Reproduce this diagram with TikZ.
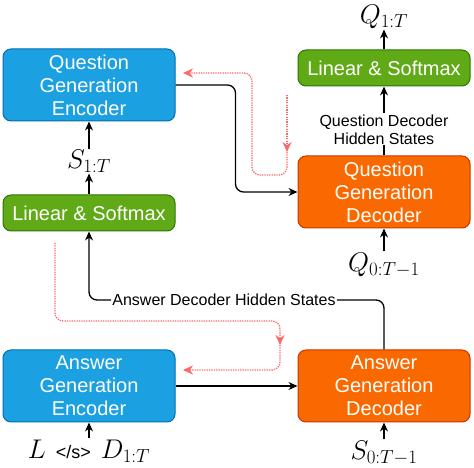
\RequirePackage{fix-cm}
\documentclass[tikz,border=0pt]{standalone}
\usepackage{fontspec}
\setmainfont{Liberation Sans}
\usepackage{tikz}
\usetikzlibrary{positioning, arrows.meta}

\definecolor{encblue}{HTML}{1BA1E2}
\definecolor{encblueline}{HTML}{006EAF}
\definecolor{decorange}{HTML}{FA6800}
\definecolor{decorangeline}{HTML}{C73500}
\definecolor{lsgreen}{HTML}{60A917}
\definecolor{lsgreenline}{HTML}{2D7600}
\definecolor{gradred}{HTML}{FF6666}

\tikzset{
  blockbox/.style={draw, rounded corners=8pt, line width=1pt, minimum width=172pt, text=white, align=center, font=\fontsize{20}{23}\selectfont},
  encbox/.style={blockbox, fill=encblue, draw=encblueline, minimum height=72pt},
  decbox/.style={blockbox, fill=decorange, draw=decorangeline, minimum height=72pt},
  lsbox/.style={blockbox, fill=lsgreen, draw=lsgreenline, minimum height=36pt},
  mathlbl/.style={font=\fontsize{27}{31}\selectfont, inner sep=1pt},
  smalllbl/.style={font=\fontsize{16}{18}\selectfont, align=center, inner sep=1pt},
  flow/.style={line width=1.3pt, -{Stealth[length=9pt,width=8pt]}},
  grad/.style={draw=gradred, line width=1.3pt, dash pattern=on 1.3pt off 1.1pt, rounded corners=8pt, -{Stealth[length=10pt,width=9pt]}}
}

\begin{document}
\begin{tikzpicture}[x=1pt, y=1pt]
    \useasboundingbox (0,0) rectangle (474,468);

    \node [encbox] (aenc) at (89,82) {Answer\\Generation\\Encoder};
    \node [decbox, right=122pt of aenc] (adec) {Answer\\Generation\\Decoder};
    \node [lsbox, above=118pt of aenc] (lsl) {Linear \& Softmax};
    \node [encbox, above=73pt of lsl] (qenc) {Question\\Generation\\Encoder};
    \node [decbox, above=121pt of adec] (qdec) {Question\\Generation\\Decoder};
    \node [lsbox, above=69pt of qdec] (lsr) {Linear \& Softmax};

    \node [mathlbl, above=21pt of lsl] (s1) {$S_{1:T}$};
    \node [mathlbl, above=20pt of lsr] (q1) {$Q_{1:T}$};
    \node [mathlbl, below=23pt of qdec] (q0) {$Q_{0:T-1}$};
    \node [mathlbl, below=17pt of adec] (s0) {$S_{0:T-1}$};
    \node [mathlbl, below=16pt of aenc] (ain) {$L$\hspace{10pt}{\fontsize{18}{20}\selectfont </s>}\hspace{10pt}$D_{1:T}$};
    \node [smalllbl, above=10pt of qdec] (qdhs) {Question Decoder\\Hidden States};
    \node [smalllbl] (adhs) at (224,168) {Answer Decoder Hidden States};

    \draw [flow] (ain) -- (aenc);
    \draw [flow] (s0) -- (adec);
    \draw [flow] (q0) -- (qdec);
    \draw [flow] (lsl) -- (s1);
    \draw [flow] (s1) -- (qenc);
    \draw [flow] (lsr) -- (q1);
    \draw [line width=1.3pt] (qdec) -- (qdhs);
    \draw [flow] (qdhs) -- (lsr);
    \draw [flow] (aenc) -- (adec);
    \draw [flow, rounded corners=8pt] (qenc.east) -- ++(60,0) |- (qdec.west);
    \draw [line width=1.3pt, rounded corners=8pt] (adec.north) |- (adhs.east);
    \draw [flow, rounded corners=8pt] (adhs.west) -| (lsl.south);

    % gradient paths
    \coordinate (gq1) at (287,373);
    \coordinate (gq2) at (287,316);
    \coordinate (gq3) at (287,293);
    \coordinate (gq4) at (252,395);
    \coordinate (gq5) at (183,395);
    \draw [grad] (gq1) -- (gq2);
    \draw [grad] (gq2) -- (gq3) -| (gq4) -- (gq5);

    \coordinate (ga1) at (55,225);
    \coordinate (ga2) at (280,147);
    \coordinate (ga3) at (280,123);
    \coordinate (ga4) at (280,98);
    \coordinate (ga5) at (183,98);
    \draw [grad] (ga1) |- (ga2) -- (ga3);
    \draw [grad] (ga3) -- (ga4) -- (ga5);
\end{tikzpicture}
\end{document}
